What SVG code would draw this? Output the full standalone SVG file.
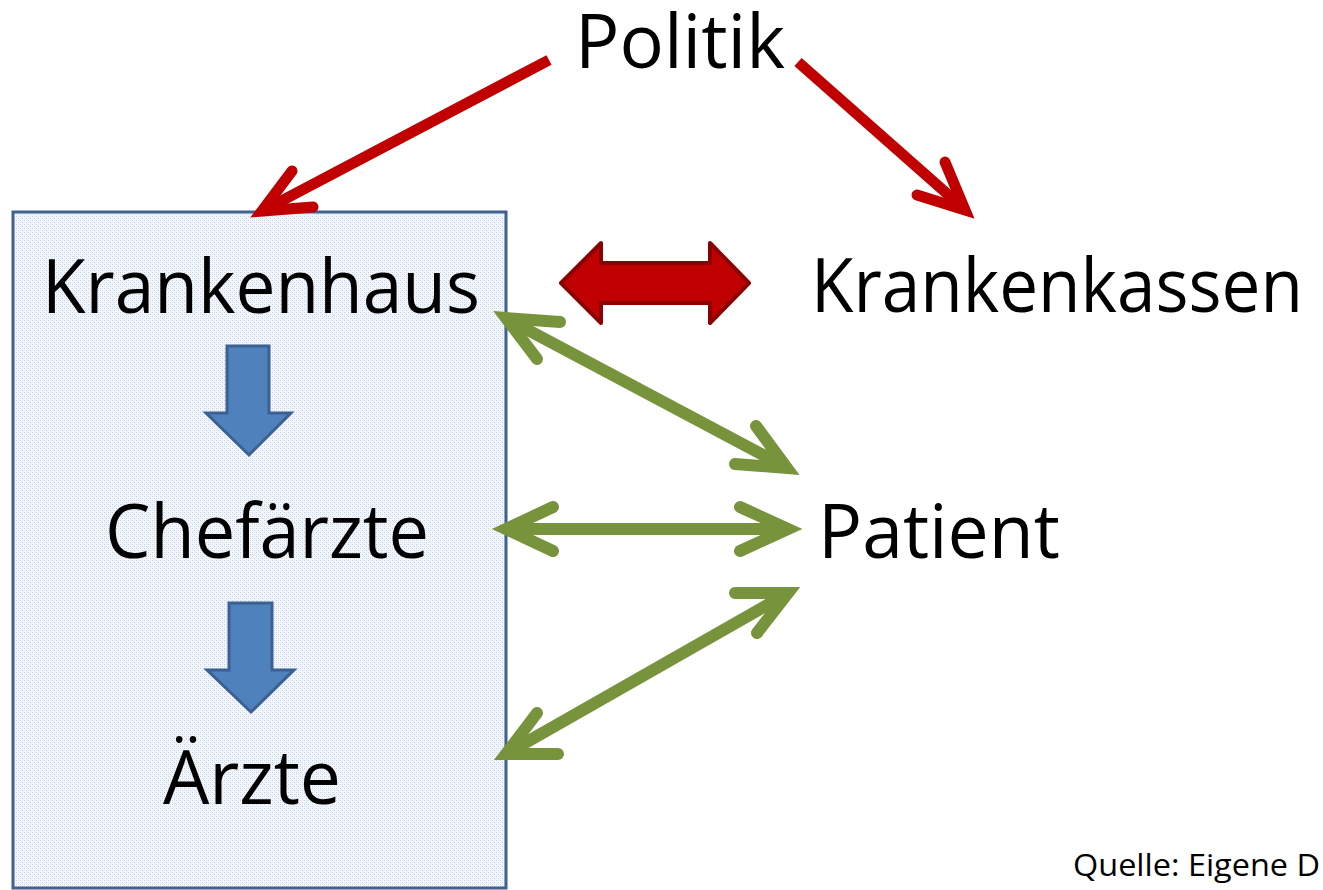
<svg xmlns="http://www.w3.org/2000/svg" width="1323" height="890" viewBox="0 0 1323 890">
<style>
  .lbl { font-family: "Open Sans", "Noto Sans", sans-serif; font-size: 75px; fill: #000; }
  .src { font-family: "Open Sans", "Noto Sans", sans-serif; font-size: 31px; fill: #000; }
  .red { stroke: #c00000; stroke-width: 11; fill: none; }
  .grn { stroke: #77933c; stroke-width: 12; fill: none; }
  .head { stroke-linecap: round; stroke-linejoin: miter; stroke-miterlimit: 10; }
  .blk { fill: #4f81bd; stroke: #3a6191; stroke-width: 3; }
</style>
<defs>
  <pattern id="dots" width="4" height="4" patternUnits="userSpaceOnUse">
    <rect width="4" height="4" fill="#f3f6fa"/>
    <rect x="0" y="0" width="1" height="1" fill="#c3d2e5"/>
    <rect x="2" y="2" width="1" height="1" fill="#c3d2e5"/>
    <rect x="2" y="0" width="1" height="1" fill="#e0e8f2"/>
    <rect x="0" y="2" width="1" height="1" fill="#e0e8f2"/>
  </pattern>
</defs>
<rect width="1323" height="890" fill="#fff"/>

<g id="krankenhaus-box">
  <rect x="13" y="212" width="493" height="676" fill="url(#dots)" stroke="#3f6290" stroke-width="3"/>
</g>

<g id="politik"><text class="lbl" x="575" y="68" textLength="210" lengthAdjust="spacingAndGlyphs">Politik</text></g>
<g id="krankenhaus"><text class="lbl" x="42" y="313" textLength="438" lengthAdjust="spacingAndGlyphs">Krankenhaus</text></g>
<g id="chefaerzte"><text class="lbl" x="105" y="558" textLength="324" lengthAdjust="spacingAndGlyphs">Chefärzte</text></g>
<g id="aerzte"><text class="lbl" x="163" y="804" textLength="178" lengthAdjust="spacingAndGlyphs">Ärzte</text></g>
<g id="krankenkassen"><text class="lbl" transform="translate(811,312) scale(0.93,1)" x="0" y="0" textLength="529" lengthAdjust="spacingAndGlyphs">Krankenkassen</text></g>
<g id="patient"><text class="lbl" x="818" y="558" textLength="242" lengthAdjust="spacingAndGlyphs">Patient</text></g>
<g id="quelle"><text class="src" x="1073" y="876" textLength="247" lengthAdjust="spacingAndGlyphs">Quelle: Eigene D</text></g>

<g id="connectors">
  <!-- Politik -> Krankenhaus -->
  <line class="red" x1="549" y1="60" x2="266" y2="209"/>
  <polyline class="red head" points="292,171 262,211 313,207"/>
  <!-- Politik -> Krankenkassen -->
  <line class="red" x1="798" y1="62" x2="961" y2="206"/>
  <polyline class="red head" points="945,162 965,210 917,195"/>
  <!-- Krankenhaus <-> Krankenkassen -->
  <path d="M561,283 L601,243 L601,263 L710,263 L710,243 L749,283 L710,323 L710,303 L601,303 L601,323 Z" fill="#c00000" stroke="#8b0000" stroke-width="4" stroke-linejoin="round"/>
  <!-- Krankenhaus <-> Patient -->
  <line class="grn" x1="511" y1="321" x2="782" y2="465"/>
  <polyline class="grn head" points="560,322 506,318 537,359"/>
  <polyline class="grn head" points="735,464 787,468 756,426"/>
  <!-- Chefaerzte <-> Patient -->
  <line class="grn" x1="511" y1="529" x2="783" y2="529"/>
  <polyline class="grn head" points="553,507 506,529 553,551"/>
  <polyline class="grn head" points="740,507 788,529 740,551"/>
  <!-- Aerzte <-> Patient -->
  <line class="grn" x1="511" y1="751" x2="783" y2="596"/>
  <polyline class="grn head" points="558,754 506,754 537,713"/>
  <polyline class="grn head" points="735,593 788,593 757,633"/>
  <!-- internal block arrows -->
  <path class="blk" d="M227,346 L269,346 L269,413 L291,413 L249,455 L206,413 L227,413 Z"/>
  <path class="blk" d="M229,603 L272,603 L272,670 L294,670 L251,712 L207,670 L229,670 Z"/>
</g>
</svg>
